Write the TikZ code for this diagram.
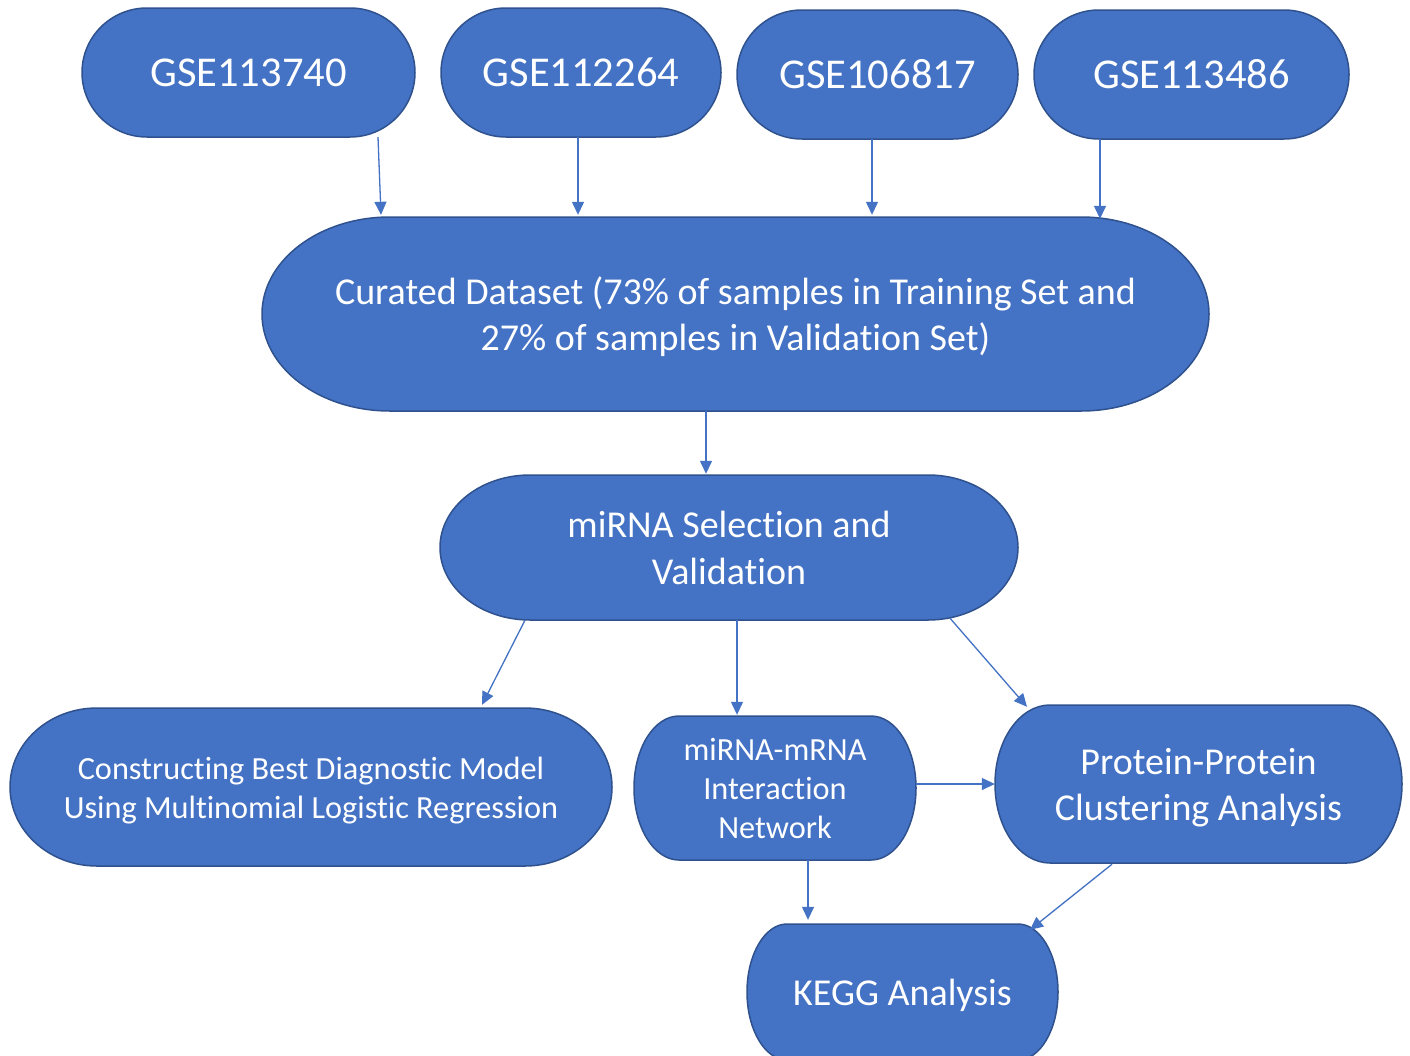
\documentclass[tikz,border=0pt]{standalone}
\usepackage{fontspec}
\setmainfont{Carlito}[Ligatures=NoCommon]
\usetikzlibrary{arrows.meta,calc}
\definecolor{fillblue}{HTML}{4472C4}
\definecolor{edgeblue}{HTML}{2F528F}
\tikzset{
  stad/.style={fill=fillblue, draw=edgeblue, line width=1.5pt},
  lbl/.style={text=white, align=center, inner sep=0pt, shape=rectangle},
  arr/.style={draw=fillblue, line width=1.3pt, -{Triangle[length=13pt,width=12pt]}, fill=fillblue},
}
\newcommand\stadium[8]{%
  \path[stad] ({#2+#6},#3) -- ({#4-#6},#3)
    arc[start angle=-90,end angle=90,x radius=#6,y radius={(#5-#3)/2}]
    -- ({#2+#6},#5)
    arc[start angle=90,end angle=270,x radius=#6,y radius={(#5-#3)/2}] -- cycle;
  \node[lbl, minimum width={#4-#2}, minimum height={#5-#3}, font={#7}] (#1) at ({(#2+#4)/2},{(#3+#5)/2}) {\raisebox{-4pt}[\height][\depth]{\begin{tabular}{@{}c@{}}#8\end{tabular}}};
}
\newcommand\fbig{\fontsize{42.5}{51}\selectfont}
\newcommand\fmid{\fontsize{38}{46.5}\selectfont}
\newcommand\fsml{\fontsize{32.3}{39}\selectfont}
\begin{document}
\begin{tikzpicture}[x=1pt,y=-1pt]
\useasboundingbox (0,0) rectangle (1410,1055);
\clip (0,0) rectangle (1410,1055);
\fill[white] (0,0) rectangle (1410,1055);

\stadium{g1}{82}{8}{415}{137}{65}{\fbig}{GSE113740}
\stadium{g2}{441}{8}{721}{137}{65}{\fbig}{GSE112264}
\stadium{g3}{737}{10}{1018}{139}{65}{\fbig}{GSE106817}
\stadium{g4}{1034}{10}{1349}{139}{65}{\fbig}{GSE113486}
\stadium{cur}{262}{217}{1209}{411}{128}{\fmid}{Curated Dataset (73\% of samples in Training Set and\\27\% of samples in Validation Set)}
\stadium{sel}{440}{475}{1018}{620}{90}{\fmid}{miRNA Selection and\\Validation}
\stadium{con}{10}{708}{612}{866}{87}{\fsml}{Constructing Best Diagnostic Model\\Using Multinomial Logistic Regression}
\stadium{mm}{634}{716}{916}{860}{45}{\fsml}{miRNA-mRNA\\Interaction\\Network}
\stadium{pp}{995}{705}{1402}{863}{55}{\fmid}{Protein-Protein\\Clustering Analysis}
\stadium{kegg}{747}{924}{1058}{1060}{40}{\fmid}{KEGG Analysis}

\draw[arr] ($(g1.south)+(129.5,0)$) -- ($(cur.north)+(-354.5,-2)$);
\draw[arr] ($(g2.south)+(-3,0)$) -- ($(cur.north)+(-157.5,-2)$);
\draw[arr] ($(g3.south)+(-5.5,0)$) -- ($(cur.north)+(136.5,-2)$);
\draw[arr] ($(g4.south)+(-91.5,0)$) -- ($(cur.north)+(364.5,2)$);
\draw[arr] ($(cur.south)+(-29.5,0)$) -- ($(sel.north)+(-23,-1)$);
\draw[arr] ($(sel.south)+(-204,0)$) -- ($(con.north)+(171,-3)$);
\draw[arr] ($(sel.south)+(8,0)$) -- ($(mm.north)+(-38,-1)$);
\draw[arr] ($(sel.south)+(221,-2)$) -- ($(pp.north)+(-171.5,2)$);
\draw[arr] ($(mm.east)+(0,-4)$) -- ($(pp.west)+(0,0)$);
\draw[arr] ($(mm.south)+(33,0)$) -- ($(kegg.north)+(-94.5,-4)$);
\draw[arr] ($(pp.south)+(-86.5,1)$) -- ($(kegg.north)+(127.5,6)$);
\end{tikzpicture}
\end{document}
